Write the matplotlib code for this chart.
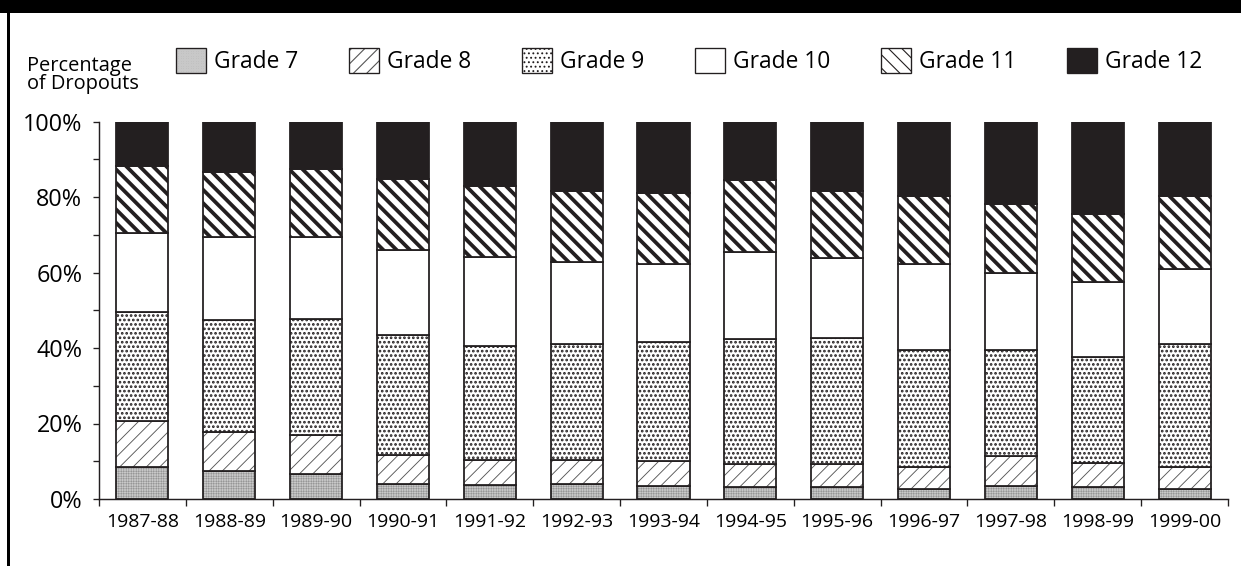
import numpy as np
import matplotlib
matplotlib.use('Agg')
import matplotlib.pyplot as plt
from matplotlib.patches import Patch, Rectangle

# data (percent of dropouts by grade)
years = ['1987-88', '1988-89', '1989-90', '1990-91', '1991-92', '1992-93', '1993-94',
         '1994-95', '1995-96', '1996-97', '1997-98', '1998-99', '1999-00']
grade7 = [8.5, 7.5, 6.5, 4.0, 3.7, 4.0, 3.5, 3.1, 3.1, 2.6, 3.5, 3.3, 2.6]
grade8 = [12.2, 10.2, 10.4, 7.7, 6.5, 6.3, 6.6, 6.1, 6.1, 6.0, 7.8, 6.3, 6.0]
grade9 = [28.9, 29.7, 30.8, 31.8, 30.4, 30.7, 31.5, 33.3, 33.4, 31.0, 28.2, 28.0, 32.5]
grade10 = [20.9, 22.0, 21.7, 22.5, 23.4, 21.8, 20.7, 23.0, 21.3, 22.7, 20.4, 19.9, 19.7]
grade11 = [17.7, 17.3, 17.9, 18.7, 18.9, 18.7, 18.7, 18.9, 17.6, 18.0, 18.3, 18.1, 19.5]
grade12 = [11.8, 13.3, 12.7, 15.3, 17.1, 18.5, 19.0, 15.6, 18.5, 19.7, 21.8, 24.4, 19.7]
labels = ['Grade 7', 'Grade 8', 'Grade 9', 'Grade 10', 'Grade 11', 'Grade 12']

plt.rcParams['font.family'] = ['Open Sans', 'DejaVu Sans']
dark = '#231f20'

# face, hatch colour, hatch, hatch linewidth
styles = [('#8a8a8a', '#c8c8c8', '++++++++', 0.5),
          ('white', '#555555', '//', 0.8),
          ('white', dark, '...', 1.6),
          ('white', dark, '', 1.0),
          ('white', dark, '\\\\', 3.4),
          (dark, dark, '', 1.0)]

series = [grade7, grade8, grade9, grade10, grade11, grade12]

dpi = 80
fig = plt.figure(figsize=(1241 / dpi, 566 / dpi), dpi=dpi)
ax = fig.add_axes([99 / 1241, 67 / 566, 1129 / 1241, 377.5 / 566])

x = np.arange(len(years))
bottom = np.zeros(len(years))
handles = []
for vals, lab, (fc, hc, h, hlw) in zip(series, labels, styles):
    vals = np.array(vals)
    with plt.rc_context({'hatch.linewidth': hlw}):
        fill = ax.bar(x, vals, 0.6, bottom=bottom, color=fc, edgecolor=hc,
                      hatch=h, linewidth=0)
        for p in fill:
            if hasattr(p, 'set_hatch_linewidth'):
                p.set_hatch_linewidth(hlw)
        ax.bar(x, vals, 0.6, bottom=bottom, fill=False, edgecolor=dark, linewidth=1.6)
        hp = Patch(facecolor=fc, edgecolor=hc, hatch=h, linewidth=0)
        if hasattr(hp, 'set_hatch_linewidth'):
            hp.set_hatch_linewidth(hlw)
    ho = Patch(fill=False, edgecolor=dark, linewidth=1.2)
    handles.append((hp, ho))
    bottom += vals

ax.set_xlim(-0.5, len(years) - 0.5)
ax.set_ylim(0, 100)
ax.set_yticks(np.arange(0, 101, 20))
ax.set_yticklabels(['%d%%' % v for v in range(0, 101, 20)], fontsize=21)
ax.set_yticks(np.arange(10, 100, 20), minor=True)
ax.set_xticks(np.arange(-0.5, len(years), 1))
ax.set_xticklabels([])
ax.set_xticks(x, minor=True)
ax.set_xticklabels(years, minor=True, fontsize=17.5)
ax.tick_params(axis='y', which='both', direction='out', length=5, width=1.2, color=dark, pad=10)
ax.tick_params(axis='x', which='major', direction='out', length=6, width=1.2, color=dark)
ax.tick_params(axis='x', which='minor', length=0, pad=13)
for s in ['top', 'right']:
    ax.spines[s].set_visible(False)
for s in ['left', 'bottom']:
    ax.spines[s].set_linewidth(1.3)
    ax.spines[s].set_color(dark)

leg = fig.legend(handles, labels, ncol=6, loc='center left',
                 bbox_to_anchor=(176 / 1241, 1 - 61 / 566), frameon=False,
                 fontsize=20.5, handlelength=1.3, handleheight=1.3,
                 handletextpad=0.35, columnspacing=2.25, borderpad=0, borderaxespad=0)

fig.text(27 / 1241, 1 - 56 / 566, 'Percentage\nof Dropouts', fontsize=18,
         va='top', ha='left', linespacing=0.9)

# frame: black band on top, rule down the left side
fig.add_artist(Rectangle((0, 1 - 13 / 566), 1, 13 / 566, transform=fig.transFigure,
                         facecolor='black', edgecolor='none'))
fig.add_artist(Rectangle((7 / 1241, 0), 2.5 / 1241, 1, transform=fig.transFigure,
                         facecolor='black', edgecolor='none'))

fig.savefig('out.png', dpi=dpi)
